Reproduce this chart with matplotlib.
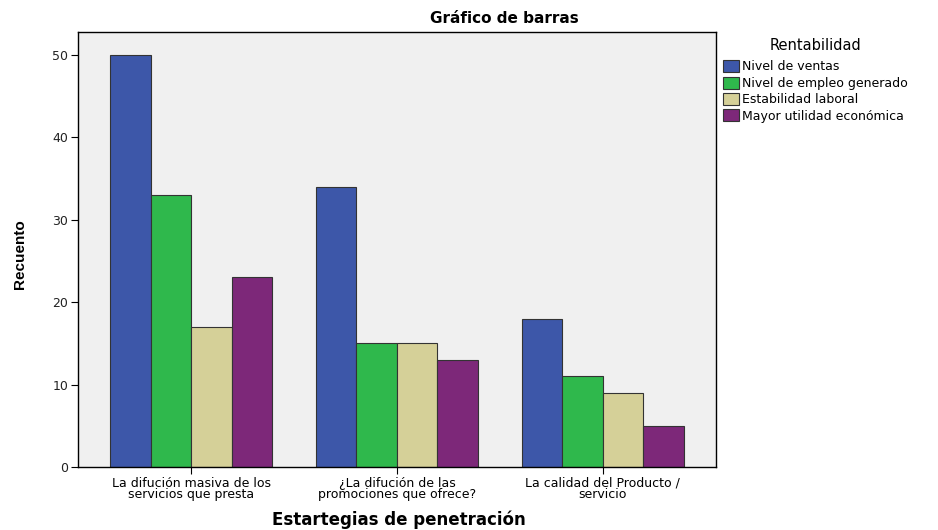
import numpy as np
import matplotlib.pyplot as plt

plt.rcParams['font.family'] = ['DejaVu Sans']

# datos
categorias = ['La difución masiva de los\nservicios que presta',
              '¿La difución de las\npromociones que ofrece?',
              'La calidad del Producto /\nservicio']
series = ['Nivel de ventas', 'Nivel de empleo generado',
          'Estabilidad laboral', 'Mayor utilidad económica']
ventas = [50, 34, 18]
empleo = [33, 15, 11]
estabilidad = [17, 15, 9]
utilidad = [23, 13, 5]
colores = ['#3d57a9', '#2fb84c', '#d5d098', '#7d2879']

fig = plt.figure(figsize=(9.38, 5.3), dpi=100)
ax = fig.add_axes([0.0832, 0.119, 0.68, 0.821])
ax.set_facecolor('#f0f0f0')

x = np.arange(len(categorias))
ancho = 0.197
valores = [ventas, empleo, estabilidad, utilidad]
for i, (nombre, vals) in enumerate(zip(series, valores)):
    ax.bar(x + (i - 1.5) * ancho, vals, ancho, color=colores[i],
           edgecolor='#333333', linewidth=0.8, label=nombre)

ax.set_xlim(-0.55, 2.55)
ax.set_ylim(0, 52.8)
ax.set_yticks([0, 10, 20, 30, 40, 50])
ax.set_xticks(x)
ax.set_xticklabels(categorias, fontsize=9, linespacing=0.85)
ax.tick_params(axis='y', labelsize=9, length=5, pad=2, labelcolor='#222222')
ax.tick_params(axis='x', length=5, pad=2)
for s in ax.spines.values():
    s.set_color('black')
    s.set_linewidth(1)

# titulos de ejes
fig.text(0.021, 0.52, 'Recuento', fontsize=11, fontweight='bold', rotation=90,
         ha='center', va='center', family='Liberation Sans')
fig.text(0.425, 0.019, 'Estartegias de penetración', fontsize=12, fontweight='bold',
         ha='center', va='center')
fig.text(0.538, 0.965, 'Gráfico de barras', fontsize=11, fontweight='bold',
         ha='center', va='center')

leg = fig.legend(loc='upper left', bbox_to_anchor=(0.765, 0.93), frameon=False,
                 title='Rentabilidad', fontsize=9, title_fontsize=10.5,
                 handlelength=1.3, handleheight=1.1, handletextpad=0.25,
                 labelspacing=0.25, borderaxespad=0)
leg.get_title().set_position((0, 4))

plt.savefig('out.png', dpi=100)
